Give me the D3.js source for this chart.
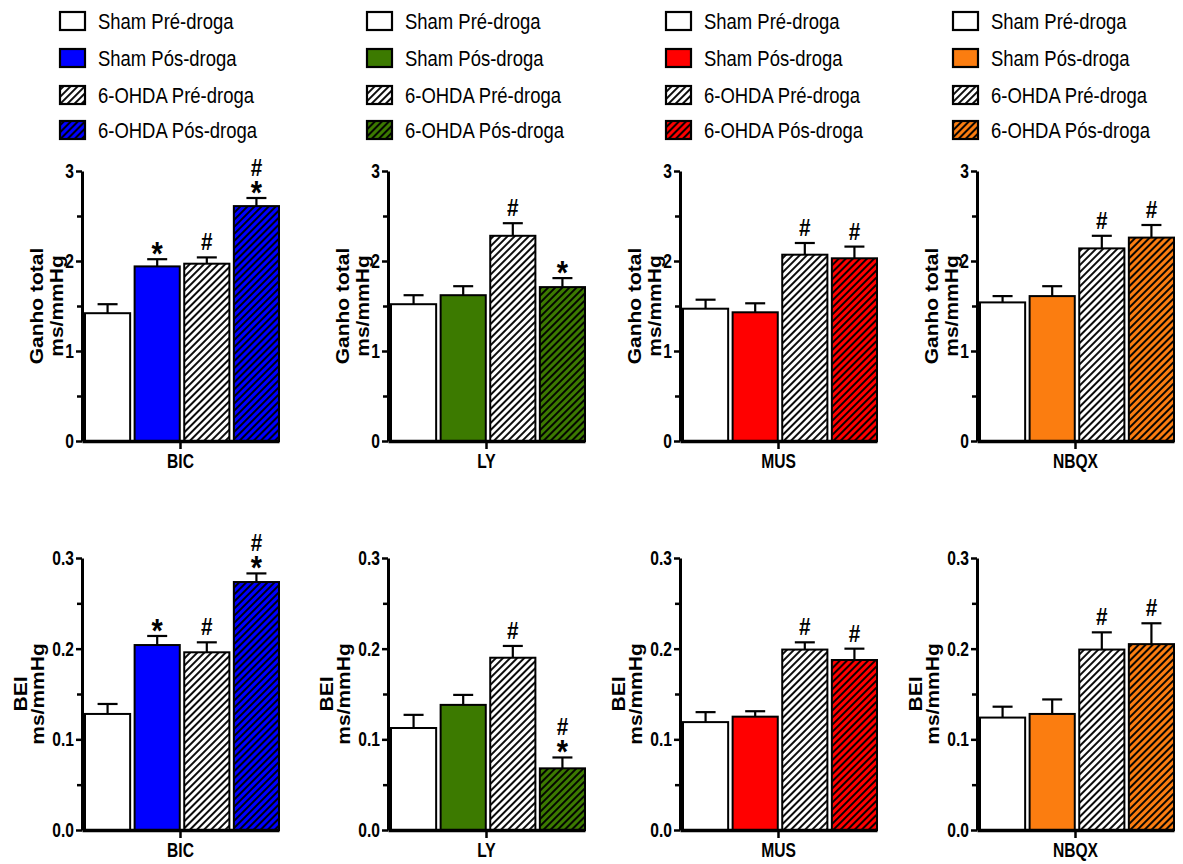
<!DOCTYPE html>
<html>
<head>
<meta charset="utf-8">
<script src="https://cdn.jsdelivr.net/npm/d3@7"></script>
<style>
  body { margin: 0; background: #fff; }
  svg { font-family: "Liberation Sans", Arial, sans-serif; }
</style>
</head>
<body>
<svg id="chart" width="1183" height="864"></svg>
<script>
const drugs = ["BIC", "LY", "MUS", "NBQX"];
const drugColors = ["#0000ff", "#3c7a00", "#ff0000", "#fb7d10"];
const groups = ["Sham Pré-droga", "Sham Pós-droga", "6-OHDA Pré-droga", "6-OHDA Pós-droga"];

// Ganho total (ms/mmHg), mean and upper SEM, one row per drug
const ganhoMean = [
  [1.42, 1.94, 1.97, 2.61],
  [1.52, 1.62, 2.28, 1.71],
  [1.47, 1.43, 2.07, 2.03],
  [1.54, 1.61, 2.14, 2.26]
];
const ganhoSem = [
  [0.10, 0.08, 0.07, 0.09],
  [0.10, 0.10, 0.14, 0.10],
  [0.10, 0.10, 0.13, 0.13],
  [0.07, 0.11, 0.14, 0.14]
];
const ganhoMarks = [
  ["", "*", "#", "#*"],
  ["", "", "#", "*"],
  ["", "", "#", "#"],
  ["", "", "#", "#"]
];

// BEI (ms/mmHg)
const beiMean = [
  [0.128, 0.204, 0.196, 0.2735],
  [0.1125, 0.138, 0.190, 0.068],
  [0.119, 0.125, 0.199, 0.1875],
  [0.124, 0.128, 0.199, 0.205]
];
const beiSem = [
  [0.011, 0.010, 0.011, 0.0095],
  [0.0145, 0.011, 0.013, 0.012],
  [0.011, 0.006, 0.008, 0.0125],
  [0.012, 0.016, 0.019, 0.023]
];
const beiMarks = [
  ["", "*", "#", "#*"],
  ["", "", "#", "#*"],
  ["", "", "#", "#"],
  ["", "", "#", "#"]
];

const ganhoTicks = [0, 1, 2, 3];
const ganhoMinor = [0.5, 1.5, 2.5];
const beiTicks = [0, 0.1, 0.2, 0.3];
const beiMinor = [0.05, 0.15, 0.25];

// layout
const axisX = [82, 388, 680, 977];
const legendX = [60, 367, 666, 953];
const legendRows = [21, 58, 95, 130];
const plotW = 197;

const svg = d3.select("#chart");
svg.append("rect").attr("width", 1183).attr("height", 864).attr("fill", "#fff");

// hatch patterns: white + one per drug colour
const defs = svg.append("defs");
const hatchFills = ["#ffffff"].concat(drugColors);
hatchFills.forEach((c, i) => {
  const p = defs.append("pattern")
    .attr("id", "hatch" + i)
    .attr("patternUnits", "userSpaceOnUse")
    .attr("width", 5).attr("height", 5)
    .attr("patternTransform", "rotate(45)");
  p.append("rect").attr("width", 5).attr("height", 5).attr("fill", c);
  p.append("line").attr("x1", 1).attr("y1", 0).attr("x2", 1).attr("y2", 5)
    .attr("stroke", "#000").attr("stroke-width", 1.9);
});

function fillFor(d, g) {
  if (g === 0) return "#fff";
  if (g === 1) return drugColors[d];
  if (g === 2) return "url(#hatch0)";
  return `url(#hatch${d + 1})`;
}

// the source glyphs are horizontally condensed
function squeeze(sel, sx) {
  sel.each(function () {
    const t = d3.select(this);
    const x = +t.attr("x") || 0;
    const y = +t.attr("y") || 0;
    t.attr("x", 0).attr("y", 0).attr("transform", `translate(${x},${y}) scale(${sx},1)`);
  });
}

// legends
drugs.forEach((drug, d) => {
  const lg = svg.append("g");
  groups.forEach((name, g) => {
    lg.append("rect")
      .attr("x", legendX[d]).attr("y", legendRows[g] - 9)
      .attr("width", 25).attr("height", 18)
      .attr("fill", fillFor(d, g))
      .attr("stroke", "#000").attr("stroke-width", 2.2);
    lg.append("text")
      .attr("x", legendX[d] + 38).attr("y", legendRows[g] + 8)
      .attr("font-size", 22)
      .text(name)
      .call(squeeze, 0.84);
  });
});

function panel(d, top, means, sems, marks, domain, ticks, minor, fmt, yTitle, titleOffsets) {
  const x0 = axisX[d];
  const y = d3.scaleLinear().domain(domain).range(top ? [441, 171] : [830, 558]);
  const xb = d3.scaleBand().domain(d3.range(4)).range([x0 + 3, x0 + plotW]).paddingInner(0.09).paddingOuter(0);
  const g = svg.append("g");

  // bars
  g.selectAll("rect.bar").data(means[d]).join("rect")
    .attr("class", "bar")
    .attr("x", (v, i) => xb(i)).attr("width", xb.bandwidth())
    .attr("y", v => y(v)).attr("height", v => y(0) - y(v))
    .attr("fill", (v, i) => fillFor(d, i))
    .attr("stroke", "#000").attr("stroke-width", 2);

  // error bars (upper only) and significance marks
  means[d].forEach((v, i) => {
    const cx = xb(i) + xb.bandwidth() / 2;
    const yt = y(v + sems[d][i]);
    g.append("line").attr("x1", cx).attr("x2", cx).attr("y1", y(v)).attr("y2", yt)
      .attr("stroke", "#000").attr("stroke-width", 2.2);
    g.append("line").attr("x1", cx - 10).attr("x2", cx + 10).attr("y1", yt).attr("y2", yt)
      .attr("stroke", "#000").attr("stroke-width", 2.2);

    const m = marks[d][i];
    if (m.includes("*")) {
      g.append("text").attr("x", cx).attr("y", yt + 6)
        .attr("text-anchor", "middle").attr("font-size", 34).attr("font-weight", "bold")
        .text("*").call(squeeze, 0.85);
    }
    if (m.includes("#")) {
      g.append("text").attr("x", cx).attr("y", m.includes("*") ? yt - 22 : yt - 7)
        .attr("text-anchor", "middle").attr("font-size", 23).attr("font-weight", "bold")
        .text("#").call(squeeze, 0.9);
    }
  });

  // y axis
  const ya = g.append("g").attr("transform", `translate(${x0},0)`)
    .call(d3.axisLeft(y).tickValues(ticks).tickFormat(fmt).tickSize(6).tickSizeOuter(0).tickPadding(2));
  ya.select(".domain").attr("stroke-width", 3);
  ya.selectAll(".tick line").attr("stroke-width", 2.5);
  ya.selectAll(".tick text").attr("font-size", 20).attr("font-weight", "bold").attr("font-family", null).call(squeeze, 0.78);
  const ym = g.append("g").attr("transform", `translate(${x0},0)`)
    .call(d3.axisLeft(y).tickValues(minor).tickFormat("").tickSize(5).tickSizeOuter(0));
  ym.select(".domain").remove();
  ym.selectAll(".tick line").attr("stroke-width", 2.5);

  // x axis with single category
  const xc = d3.scaleBand().domain([drugs[d]]).range([x0, x0 + plotW]);
  const xa = g.append("g").attr("transform", `translate(0,${y(0)})`)
    .call(d3.axisBottom(xc).tickSize(8).tickSizeOuter(0).tickPadding(5));
  xa.select(".domain").attr("stroke-width", 3.5);
  xa.selectAll(".tick line").attr("stroke-width", 2.5);
  xa.selectAll(".tick text").attr("font-size", 20).attr("font-weight", "bold").attr("font-family", null).call(squeeze, 0.78);

  // y title (two lines)
  const cy = (y.range()[0] + y.range()[1]) / 2;
  yTitle.forEach((line, k) => {
    g.append("text")
      .attr("transform", `translate(${x0 + titleOffsets[k]},${cy}) scale(0.9,1) rotate(-90)`)
      .attr("text-anchor", "middle").attr("font-size", 21).attr("font-weight", "bold")
      .text(line);
  });
}

drugs.forEach((drug, d) => {
  panel(d, true, ganhoMean, ganhoSem, ganhoMarks, [0, 3], ganhoTicks, ganhoMinor,
    d3.format("d"), ["Ganho total", "ms/mmHg"], [-39, -19]);
  panel(d, false, beiMean, beiSem, beiMarks, [0, 0.3], beiTicks, beiMinor,
    d3.format(".1f"), ["BEI", "ms/mmHg"], [-55, -38]);
});
</script>
</body>
</html>
